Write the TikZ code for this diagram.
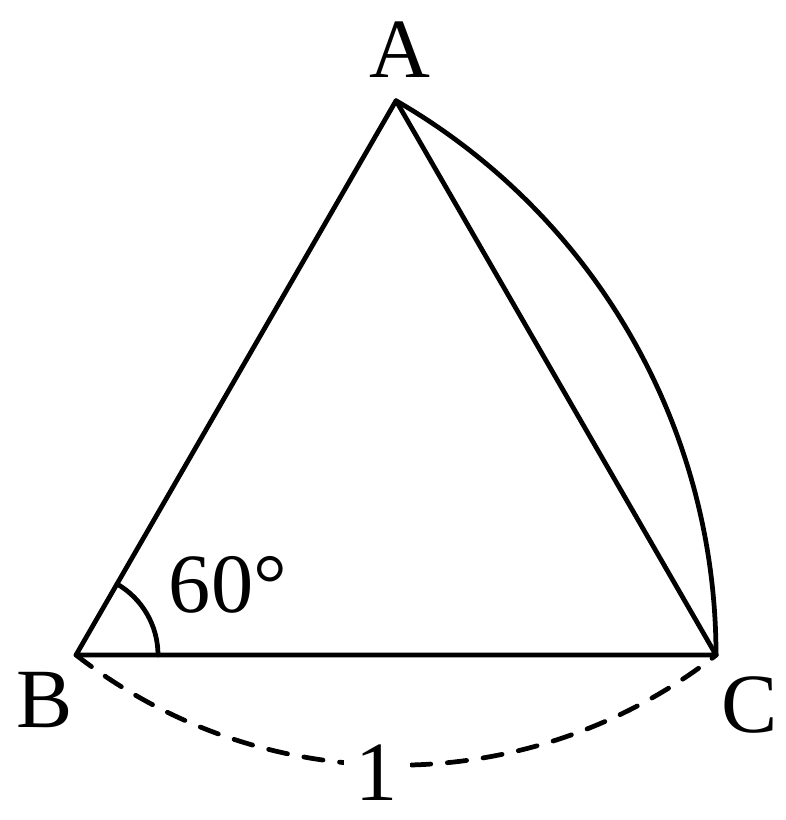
\documentclass[tikz,border=0pt]{standalone}
\usepackage{fontspec}
\setmainfont{Liberation Serif}
\usepackage{tikz}
\usetikzlibrary{calc}
\tikzset{
  lbl/.style={inner sep=0pt, font=\fontsize{48}{50}\selectfont},
  side/.style={line width=2.7pt, line cap=round, line join=round},
}
\begin{document}
\begin{tikzpicture}[x=0.02cm, y=0.02cm]
  \useasboundingbox (0,0) rectangle (785,820);

  \coordinate (B) at (76,165);
  \coordinate (C) at (716,165);
  \coordinate (A) at (396,719.3);

  \draw[side] (B) -- (C) -- (A) -- cycle;
  \draw[side] (A) arc[start angle=60, end angle=0, radius=640];
  \draw[side] ($ (B)+(82,0) $) arc[start angle=0, end angle=60, radius=82];
  \draw[side, dash pattern=on 11pt off 9.5pt] (B) arc[start angle=232, end angle=308, radius=520];

  \node[lbl] (labA) at (400,770) {A};
  \node[lbl] (labB) at (45,120) {B};
  \node[lbl] (labC) at (750,115) {C};
  \node[lbl] (ang) at (228,235) {60°};
  \node[lbl, fill=white, inner xsep=7pt] (len) at (377,47) {1};
\end{tikzpicture}
\end{document}
